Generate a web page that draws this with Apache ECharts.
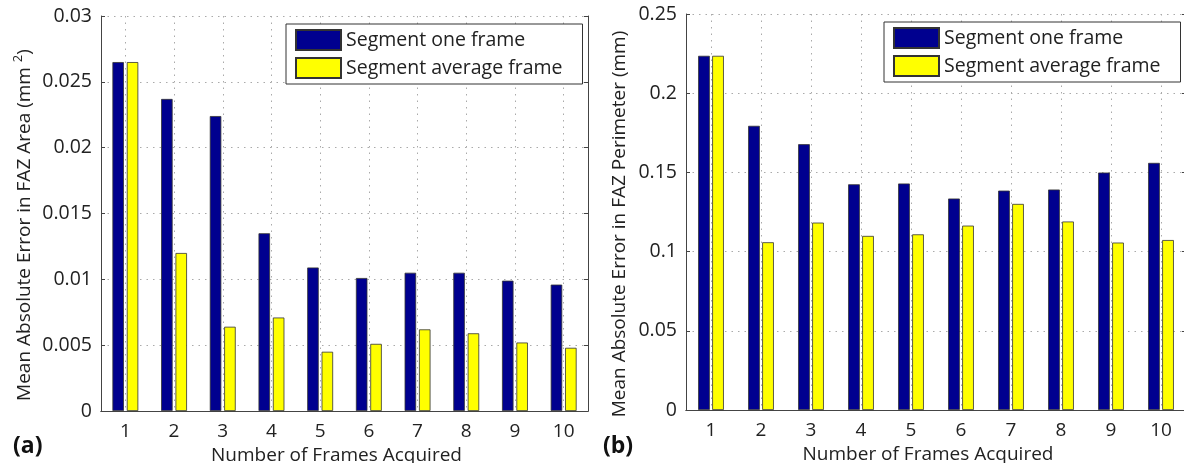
<!DOCTYPE html>
<html>
<head>
<meta charset="utf-8">
<script src="https://cdn.jsdelivr.net/npm/echarts@6/dist/echarts.min.js"></script>
<style>
  html, body { margin: 0; padding: 0; background: #fff; }
  #chart { width: 1184px; height: 463px; }
</style>
</head>
<body>
<div id="chart"></div>
<script>
// Number of frames acquired (x categories)
const frames = ['1', '2', '3', '4', '5', '6', '7', '8', '9', '10'];

// (a) Mean absolute error in FAZ area (mm^2)
const areaOneFrame = [0.0265, 0.0237, 0.0224, 0.0135, 0.0109, 0.0101, 0.0105, 0.0105, 0.0099, 0.0096];
const areaAvgFrame = [0.0265, 0.0120, 0.0064, 0.0071, 0.0045, 0.0051, 0.0062, 0.0059, 0.0052, 0.0048];

// (b) Mean absolute error in FAZ perimeter (mm)
const perimOneFrame = [0.2236, 0.1794, 0.1678, 0.1425, 0.1430, 0.1335, 0.1385, 0.1392, 0.1499, 0.1560];
const perimAvgFrame = [0.2236, 0.1059, 0.1183, 0.1099, 0.1109, 0.1164, 0.1301, 0.1190, 0.1057, 0.1073];

const seriesNames = ['Segment one frame', 'Segment average frame'];
const xTitle = 'Number of Frames Acquired';
const yTitleAreaParts = ['Mean Absolute Error in FAZ Area (mm ', '2', ')'];
const yTitlePerim = 'Mean Absolute Error in FAZ Perimeter (mm)';

const FONT = '"Open Sans", "Noto Sans", sans-serif';
const TEXT = '#222';
const AXIS = '#444';
const NAVY = '#00008F';
const YELLOW = '#FFFF00';

const chart = echarts.init(document.getElementById('chart'), null, { renderer: 'canvas' });

const grids = [
  { left: 101, top: 16, width: 487, height: 395, outerBoundsMode: 'none', containLabel: false },
  { left: 686, top: 14, width: 500, height: 396, outerBoundsMode: 'none', containLabel: false }
];

function bottomX(gi, nameShift) {
  return {
    type: 'category', gridIndex: gi, data: frames, position: 'bottom',
    boundaryGap: true,
    axisLine: { lineStyle: { color: AXIS, width: 1 } },
    axisTick: { inside: true, alignWithLabel: true, length: 4, lineStyle: { color: AXIS } },
    axisLabel: { color: TEXT, fontFamily: FONT, fontSize: 19, margin: 11 },
    splitLine: { show: true, alignWithLabel: true, lineStyle: { color: '#aaa', type: [1.5, 5], width: 1 } },
    name: xTitle, nameLocation: 'middle', nameGap: 25,
    nameTextStyle: { color: TEXT, fontFamily: FONT, fontSize: 19, padding: [0, nameShift, 0, 0] }
  };
}
function topX(gi) {
  return {
    type: 'category', gridIndex: gi, data: frames, position: 'top',
    axisLine: { lineStyle: { color: AXIS, width: 1 } },
    axisTick: { inside: true, alignWithLabel: true, length: 4, lineStyle: { color: AXIS } },
    axisLabel: { show: false }, splitLine: { show: false }
  };
}
function leftY(gi, max, interval) {
  return {
    type: 'value', gridIndex: gi, min: 0, max: max, interval: interval, position: 'left',
    axisLine: { show: true, lineStyle: { color: AXIS, width: 1 } },
    axisTick: { show: true, inside: true, length: 4, lineStyle: { color: AXIS } },
    axisLabel: { color: TEXT, fontFamily: FONT, fontSize: 19.5, margin: 9 },
    splitLine: { show: true, lineStyle: { color: '#aaa', type: [1.5, 5], width: 1 } }
  };
}
function rightY(gi, max, interval) {
  return {
    type: 'value', gridIndex: gi, min: 0, max: max, interval: interval, position: 'right',
    axisLine: { show: true, lineStyle: { color: AXIS, width: 1 } },
    axisTick: { show: true, inside: true, length: 4, lineStyle: { color: AXIS } },
    axisLabel: { show: false }, splitLine: { show: false }
  };
}
function barSeries(name, data, color, xi, yi, width, gap) {
  return {
    type: 'bar', name: name, data: data, xAxisIndex: xi, yAxisIndex: yi,
    barWidth: width, barGap: gap,
    itemStyle: { color: color, borderColor: '#333', borderWidth: 0.8 },
    emphasis: { disabled: true }, animation: false
  };
}
function legendBox(left, top, padRight) {
  return {
    data: seriesNames, orient: 'vertical', left: left, top: top,
    itemWidth: 45, itemHeight: 20, itemGap: 6,
    padding: [5, padRight, 5, 9],
    borderColor: '#333', borderWidth: 1, backgroundColor: '#fff',
    textStyle: { color: TEXT, fontFamily: FONT, fontSize: 19.5 },
    selectedMode: false, icon: 'rect'
  };
}

// rotated (bottom-to-top) text piece
function vText(text, x, y, size, align) {
  return {
    type: 'text', x: x, y: y, rotation: Math.PI / 2,
    style: { text: text, fill: TEXT, font: size + 'px ' + FONT, align: align, verticalAlign: 'middle' }
  };
}
// y title with a superscript, laid out piece by piece and centred on (cx, cy)
function yTitleWithSup(parts, cx, cy) {
  const ctx = document.createElement('canvas').getContext('2d');
  const width = (t, s) => { ctx.font = s + 'px ' + FONT; return ctx.measureText(t).width; };
  const wMain = width(parts[0], 19), wSup = width(parts[1], 13), wEnd = width(parts[2], 19);
  const y0 = cy + (wMain + wSup + wEnd) / 2;
  return [
    vText(parts[0], cx, y0, 19, 'left'),
    vText(parts[1], cx - 7, y0 - wMain, 13, 'left'),
    vText(parts[2], cx, y0 - wMain - wSup, 19, 'left')
  ];
}

chart.setOption({
  animation: false,
  backgroundColor: '#fff',
  grid: grids,
  xAxis: [bottomX(0, 16), topX(0), bottomX(1, 16), topX(1)],
  yAxis: [
    leftY(0, 0.03, 0.005), rightY(0, 0.03, 0.005),
    leftY(1, 0.25, 0.05), rightY(1, 0.25, 0.05)
  ],
  legend: [legendBox(286, 24, 20), legendBox(884, 22, 20)],
  series: [
    barSeries(seriesNames[0], areaOneFrame, NAVY, 0, 0, 11.5, '25%'),
    barSeries(seriesNames[1], areaAvgFrame, YELLOW, 0, 0, 11.5, '25%'),
    barSeries(seriesNames[0], perimOneFrame, NAVY, 2, 2, 11.7, '20%'),
    barSeries(seriesNames[1], perimAvgFrame, YELLOW, 2, 2, 11.7, '20%')
  ],
  graphic: [
    ...yTitleWithSup(yTitleAreaParts, 25, 225),
    vText(yTitlePerim, 620, 224, 19, 'center'),
    { type: 'text', left: 13, top: 435, style: { text: '(a)', fill: '#111', font: 'bold 23px ' + FONT } },
    { type: 'text', left: 603, top: 435, style: { text: '(b)', fill: '#111', font: 'bold 23px ' + FONT } }
  ]
});
</script>
</body>
</html>
